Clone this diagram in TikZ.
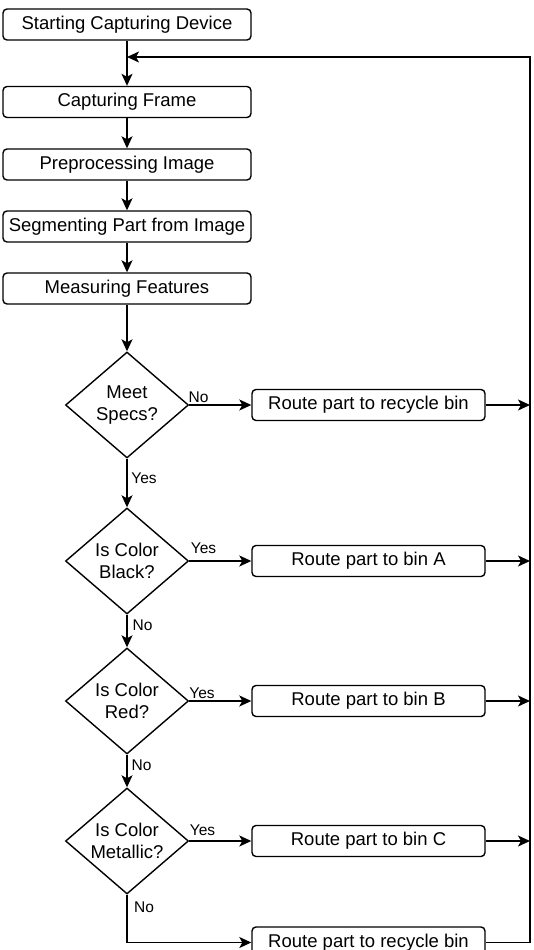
\documentclass[tikz,border=0pt]{standalone}
\usepackage{fontspec}
\setmainfont{Liberation Sans}
\usetikzlibrary{shapes.geometric,arrows.meta}
\begin{document}
\begin{tikzpicture}[x=1pt,y=-1pt,
  proc/.style={draw, rounded corners=4pt, line width=1.4pt, minimum height=31pt, font=\fontsize{18.5}{22.5}\selectfont, inner sep=0pt},
  topbox/.style={proc, minimum width=248pt},
  routebox/.style={proc, minimum width=233pt},
  dec/.style={draw, diamond, aspect=1.16, inner sep=-3pt, minimum width=123pt, minimum height=106pt, line width=1.4pt, align=center, font=\fontsize{18.5}{22.5}\selectfont},
  arr/.style={line width=1.4pt, -{Stealth[length=12pt,width=11pt,inset=3pt]}},
  lbl/.style={font=\fontsize{15.5}{18}\selectfont, inner sep=0pt}]
\useasboundingbox (0,0) rectangle (533,950);
\clip (0,0) rectangle (533,950);
% process boxes
\node[topbox] (s1) at (127,24.5) {Starting Capturing Device};
\node[topbox] (s2) at (127,102) {Capturing Frame};
\node[topbox] (s3) at (127,164.5) {Preprocessing Image};
\node[topbox] (s4) at (127,226.5) {Segmenting Part from Image};
\node[topbox] (s5) at (127,288.5) {Measuring Features};
% decisions
\node[dec] (d1) at (127,405) {Meet\\Specs?};
\node[dec] (d2) at (127,561) {Is Color\\Black?};
\node[dec] (d3) at (127,701) {Is Color\\Red?};
\node[dec] (d4) at (127,841) {Is Color\\Metallic?};
% routes
\node[routebox] (r1) at (368.5,405) {Route part to recycle bin};
\node[routebox] (ra) at (368.5,561) {Route part to bin A};
\node[routebox] (rb) at (368.5,701) {Route part to bin B};
\node[routebox] (rc) at (368.5,841) {Route part to bin C};
\node[routebox] (r2) at (368.5,942.5) {Route part to recycle bin};
% loop coordinates
\coordinate (loopc) at (530,57);
\coordinate (join) at (127,57);
% main flow
\draw[arr] (s1) -- (s2);
\draw[arr] (s2) -- (s3);
\draw[arr] (s3) -- (s4);
\draw[arr] (s4) -- (s5);
\draw[arr] (s5) -- (d1);
\draw[arr] (d1) -- (d2);
\draw[arr] (d2) -- (d3);
\draw[arr] (d3) -- (d4);
% branches
\draw[arr] (d1.east) -- (r1.west);
\draw[arr] (d2.east) -- (ra.west);
\draw[arr] (d3.east) -- (rb.west);
\draw[arr] (d4.east) -- (rc.west);
\draw[arr] (d4.south) |- (r2.west);
% returns
\draw[arr] (r1.east) -- (r1.east -| loopc);
\draw[arr] (ra.east) -- (ra.east -| loopc);
\draw[arr] (rb.east) -- (rb.east -| loopc);
\draw[arr] (rc.east) -- (rc.east -| loopc);
\draw[arr] (r2.east) -| (loopc) -- (join);
% labels
\node[lbl] (l1) at (198.5,397) {No};
\node[lbl] (l2) at (144,478) {Yes};
\node[lbl] (l3) at (203.5,548) {Yes};
\node[lbl] (l4) at (142.5,625) {No};
\node[lbl] (l5) at (202,693) {Yes};
\node[lbl] (l6) at (141.5,765) {No};
\node[lbl] (l7) at (202.5,830) {Yes};
\node[lbl] (l8) at (144,907) {No};
\end{tikzpicture}
\end{document}
